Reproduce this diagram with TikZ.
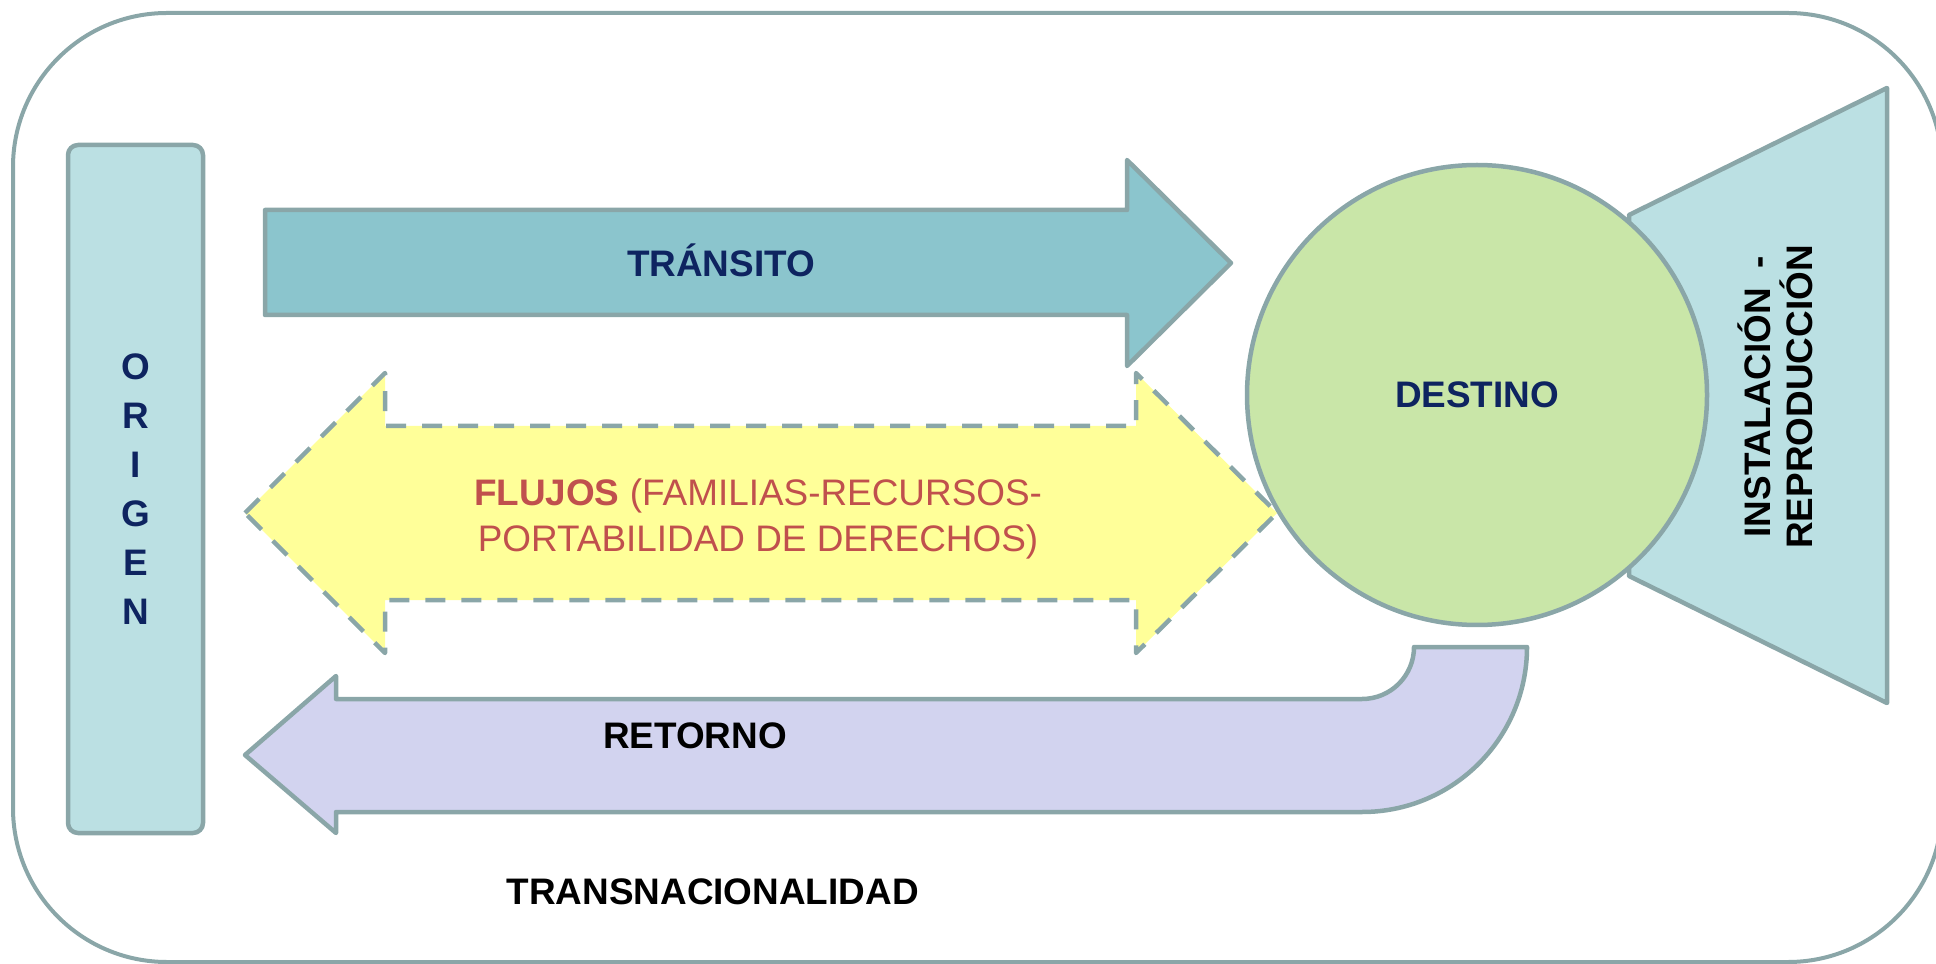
\documentclass[tikz,border=0pt]{standalone}
\usepackage{fontspec}
\setmainfont{Liberation Sans}
\definecolor{edgegray}{RGB}{138,166,168}
\definecolor{navytext}{RGB}{14,36,96}
\definecolor{redtext}{RGB}{192,80,77}
\definecolor{origenfill}{RGB}{187,224,227}
\definecolor{transitofill}{RGB}{139,197,205}
\definecolor{flujosfill}{RGB}{255,255,153}
\definecolor{destinofill}{RGB}{201,230,168}
\definecolor{retornofill}{RGB}{210,211,239}

\begin{document}
\begin{tikzpicture}[x = 0.1mm, y = 0.1mm,
    shape line/.style = {draw = edgegray, line width = 0.45mm, line join = round},
    label text/.style = {inner sep = 0pt, font = \bfseries\fontsize{10.5}{12}\selectfont}]
    \clip (0,0) rectangle (1936,963);
    % marco
    \draw[edgegray, line width = 0.4mm, rounded corners = 15.4mm] (13,1) rectangle (1942,950);
    % origen
    \node[shape line, fill = origenfill, rounded corners = 1mm, minimum width = 13.5mm, minimum height = 68.8mm, label text, text = navytext, align = center, font = \bfseries\fontsize{10.5}{13.9}\selectfont] (origen) at (135.5,474) {O\\R\\I\\G\\E\\N};
    % transito
    \draw[shape line, fill = transitofill]
    (265,648) -- (265,753) -- (1127,753) -- (1127,803) -- (1231,700) -- (1127,597) -- (1127,648) -- cycle;
    \node[label text, text = navytext, anchor = base] (transito) at (721,686) {TRÁNSITO};
    % flujos
    \draw[shape line, dash pattern = on 2mm off 1.6mm, fill = flujosfill]
    (245,450) -- (385,590) -- (385,537) -- (1136,537) -- (1136,590) -- (1277,450) -- (1136,310) -- (1136,363) -- (385,363) -- (385,310) -- cycle;
    \node[label text, text = redtext, align = center, font = \fontsize{10.5}{13}\selectfont] (flujos) at (758,444) {\textbf{FLUJOS} (FAMILIAS-RECURSOS-\\PORTABILIDAD DE DERECHOS)};
    % instalacion
    \draw[shape line, fill = origenfill]
    (1629,387) -- (1629,748) -- (1887,875) -- (1887,260) -- cycle;
    \node[label text, rotate = 90, align = center] (instalacion) at (1775,566) {INSTALACIÓN\hspace{0.9mm} -\\REPRODUCCIÓN};
    % destino
    \node[shape line, circle, fill = destinofill, minimum size = 46mm, label text, text = navytext] (destino) at (1477,568) {DESTINO};
    % retorno
    \draw[shape line, fill = retornofill]
    (245,208) -- (336,287) -- (336,264) -- (1362,264) arc[start angle = -90, end angle = 0, radius = 52] -- (1527,316) arc[start angle = 0, end angle = -90, radius = 165] -- (336,151) -- (336,130) -- cycle;
    \node[label text, anchor = base] (retorno) at (695,215) {RETORNO};
    \node[label text, anchor = base west] (transnac) at (506,59) {TRANSNACIONALIDAD};
\end{tikzpicture}
\end{document}
